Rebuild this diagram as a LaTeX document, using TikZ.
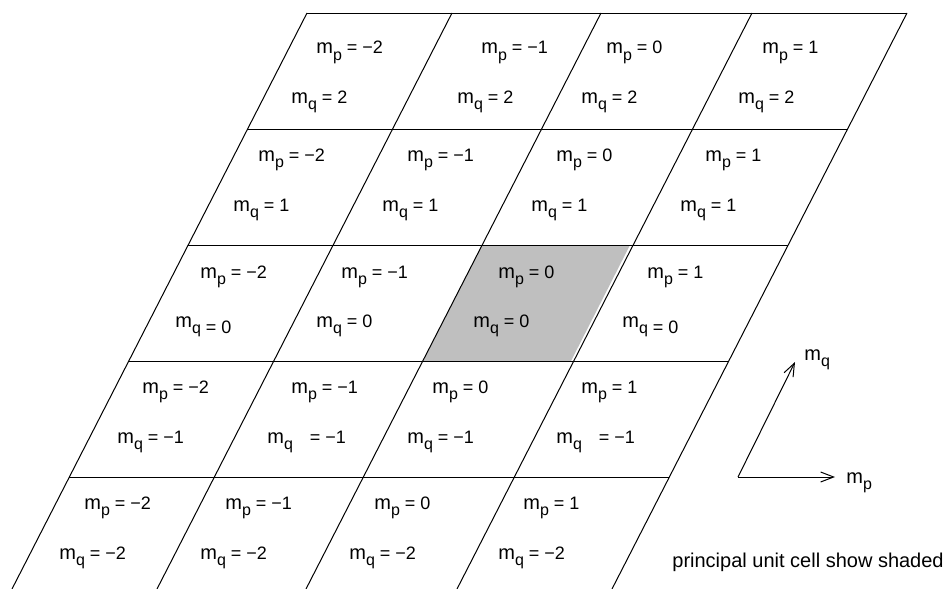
\documentclass[tikz,border=0pt]{standalone}
\usepackage{fontspec}
\setmainfont{Liberation Sans}
\usetikzlibrary{arrows.meta}
\newcommand{\mletter}{{\fontsize{10}{12}\selectfont m}}
\newcommand{\lowsub}[1]{\raisebox{-0.65ex}{\fontsize{8}{9}\selectfont #1}}
\newcommand{\mlab}[2]{\mletter\lowsub{#1} = #2}
\newcommand{\mlow}[2]{\mletter\lowsub{#1} \raisebox{-0.65ex}{= #2}}
\newcommand{\mwide}[2]{\mletter\lowsub{#1}\hspace{6pt} = #2}

\begin{document}
\begin{tikzpicture}[x=0.5pt, y=-0.5pt,
  grid/.style={line width=0.5pt},
  lab/.style={anchor=base west, inner sep=0pt, font=\fontsize{9}{11}\selectfont},
  note/.style={anchor=base west, inner sep=0pt, font=\fontsize{10}{12}\selectfont},
  axis/.style={line width=0.5pt, -{Straight Barb[length=6.5pt, width=5pt]}}
]
\useasboundingbox (0,0) rectangle (943,589);

% principal cell
\fill[black!25] (482,245) -- (630,245) -- (571,361) -- (423,361) -- cycle;

% lattice lines
\foreach \t in {307,452,601,752,907}
  \draw[grid] (\t,13) -- ({\t-295},589);
\foreach \h in {13,129,245,361,477}
  \draw[grid] ({307-0.5122*(\h-13)},\h) -- ({907-0.5122*(\h-13)},\h);

% m_p labels
\foreach \n/\x/\y/\v in {00/316/54/−2, 01/481/54/−1, 02/606/54/0, 03/762/54/1,
    10/258/161/−2, 11/407/161/−1, 12/556/161/0, 13/705/161/1,
    20/200/278/−2, 21/341/278/−1, 22/498/278/0, 23/647/278/1,
    30/142/393/−2, 31/291/393/−1, 32/432/393/0, 33/581/393/1,
    40/84/509/−2, 41/225/509/−1, 42/374/509/0, 43/523/509/1}
  \node[lab] (p\n) at (\x,\y) {\mlab{p}{\v}};

% m_q labels
\foreach \n/\x/\y/\v in {00/291/103/2, 01/457/103/2, 02/581/103/2, 03/738/103/2,
    10/233/211/1, 11/382/211/1, 12/531/211/1, 13/680/211/1,
    21/316/327/0, 22/473/327/0,
    30/117/443/−1, 32/407/443/−1,
    40/59/559/−2, 41/200/559/−2, 42/349/559/−2, 43/498/559/−2}
  \node[lab] (q\n) at (\x,\y) {\mlab{q}{\v}};
\node[lab] (q20) at (175,327) {\mlow{q}{0}};
\node[lab] (q23) at (622,327) {\mlow{q}{0}};
\node[lab] (q31) at (267,443) {\mwide{q}{−1}};
\node[lab] (q33) at (556,443) {\mwide{q}{−1}};

% axes
\coordinate (o) at (738,477);
\coordinate (ep) at (835,477);
\coordinate (eq) at (795,362);
\draw[axis] (o) -- (ep);
\draw[axis] (o) -- (eq);
\node[lab] (lp) at (846,483) {\mletter\lowsub{p}};
\node[lab] (lq) at (804,360) {\mletter\lowsub{q}};

\node[note] (cap) at (672,567) {principal unit cell show shaded};
\end{tikzpicture}
\end{document}
